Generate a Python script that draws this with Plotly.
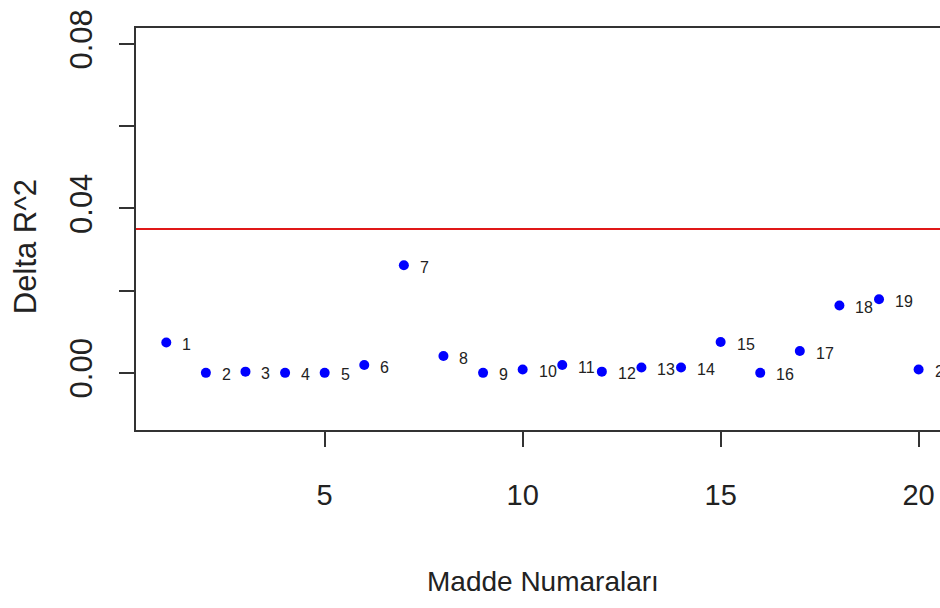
import plotly.graph_objects as go

items = list(range(1, 21))
delta_r2 = [0.0074, 0.0000, 0.0003, 0.0000, 0.0000, 0.0019, 0.0262, 0.0041, 0.0000, 0.0008,
            0.0019, 0.0003, 0.0013, 0.0013, 0.0075, 0.0000, 0.0053, 0.0164, 0.0179, 0.0008]
item_labels = [str(i) for i in items]
threshold = 0.035
y_tickvals = [0.00, 0.02, 0.04, 0.06, 0.08]
y_ticktext = ["0.00", "", "0.04", "", "0.08"]
x_tickvals = [5, 10, 15, 20]

FONT = "Liberation Sans, Arial, sans-serif"
FRAME = "#333333"

fig = go.Figure()
fig.add_trace(go.Scatter(
    x=items, y=delta_r2, mode="markers",
    marker=dict(color="#0000ff", size=10, symbol="circle"),
    hoverinfo="skip", showlegend=False,
))

for xi, yi, lab in zip(items, delta_r2, item_labels):
    fig.add_annotation(x=xi, y=yi, text=lab, showarrow=False, xanchor="left",
                       yanchor="middle", xshift=14, yshift=-2,
                       font=dict(family=FONT, size=16, color="#222222"))

fig.add_shape(type="line", xref="paper", x0=0, x1=1, yref="y", y0=threshold, y1=threshold,
              line=dict(color="#e01818", width=2))

fig.update_xaxes(range=[0.235, 20.54], tickvals=x_tickvals, ticks="outside", ticklen=15,
                 tickwidth=2, tickcolor=FRAME, showline=True, linewidth=2, linecolor=FRAME,
                 mirror=True, showgrid=False, zeroline=False,
                 tickfont=dict(family=FONT, size=29, color="#222222"), ticklabelstandoff=23)
fig.update_yaxes(range=[-0.0139, 0.0839], tickvals=y_tickvals, ticktext=y_ticktext,
                 ticks="outside", ticklen=15, tickwidth=2, tickcolor=FRAME, showline=True,
                 linewidth=2, linecolor=FRAME, mirror=False, showgrid=False, zeroline=False,
                 tickangle=-90, tickfont=dict(family=FONT, size=31, color="#222222"),
                 ticklabelstandoff=15)

fig.add_annotation(xref="paper", yref="paper", x=0.506, y=-0.378, text="Madde Numaraları",
                   showarrow=False, xanchor="center", yanchor="middle",
                   font=dict(family=FONT, size=28, color="#222222"))
fig.add_annotation(xref="paper", yref="paper", x=-0.138, y=0.455, text="Delta R^2",
                   showarrow=False, xanchor="center", yanchor="middle", textangle=-90,
                   font=dict(family=FONT, size=31, color="#222222"))

fig.update_layout(width=940, height=608, margin=dict(l=136, r=0, t=28, b=178),
                  plot_bgcolor="white", paper_bgcolor="white")

fig.write_html("out.html")
